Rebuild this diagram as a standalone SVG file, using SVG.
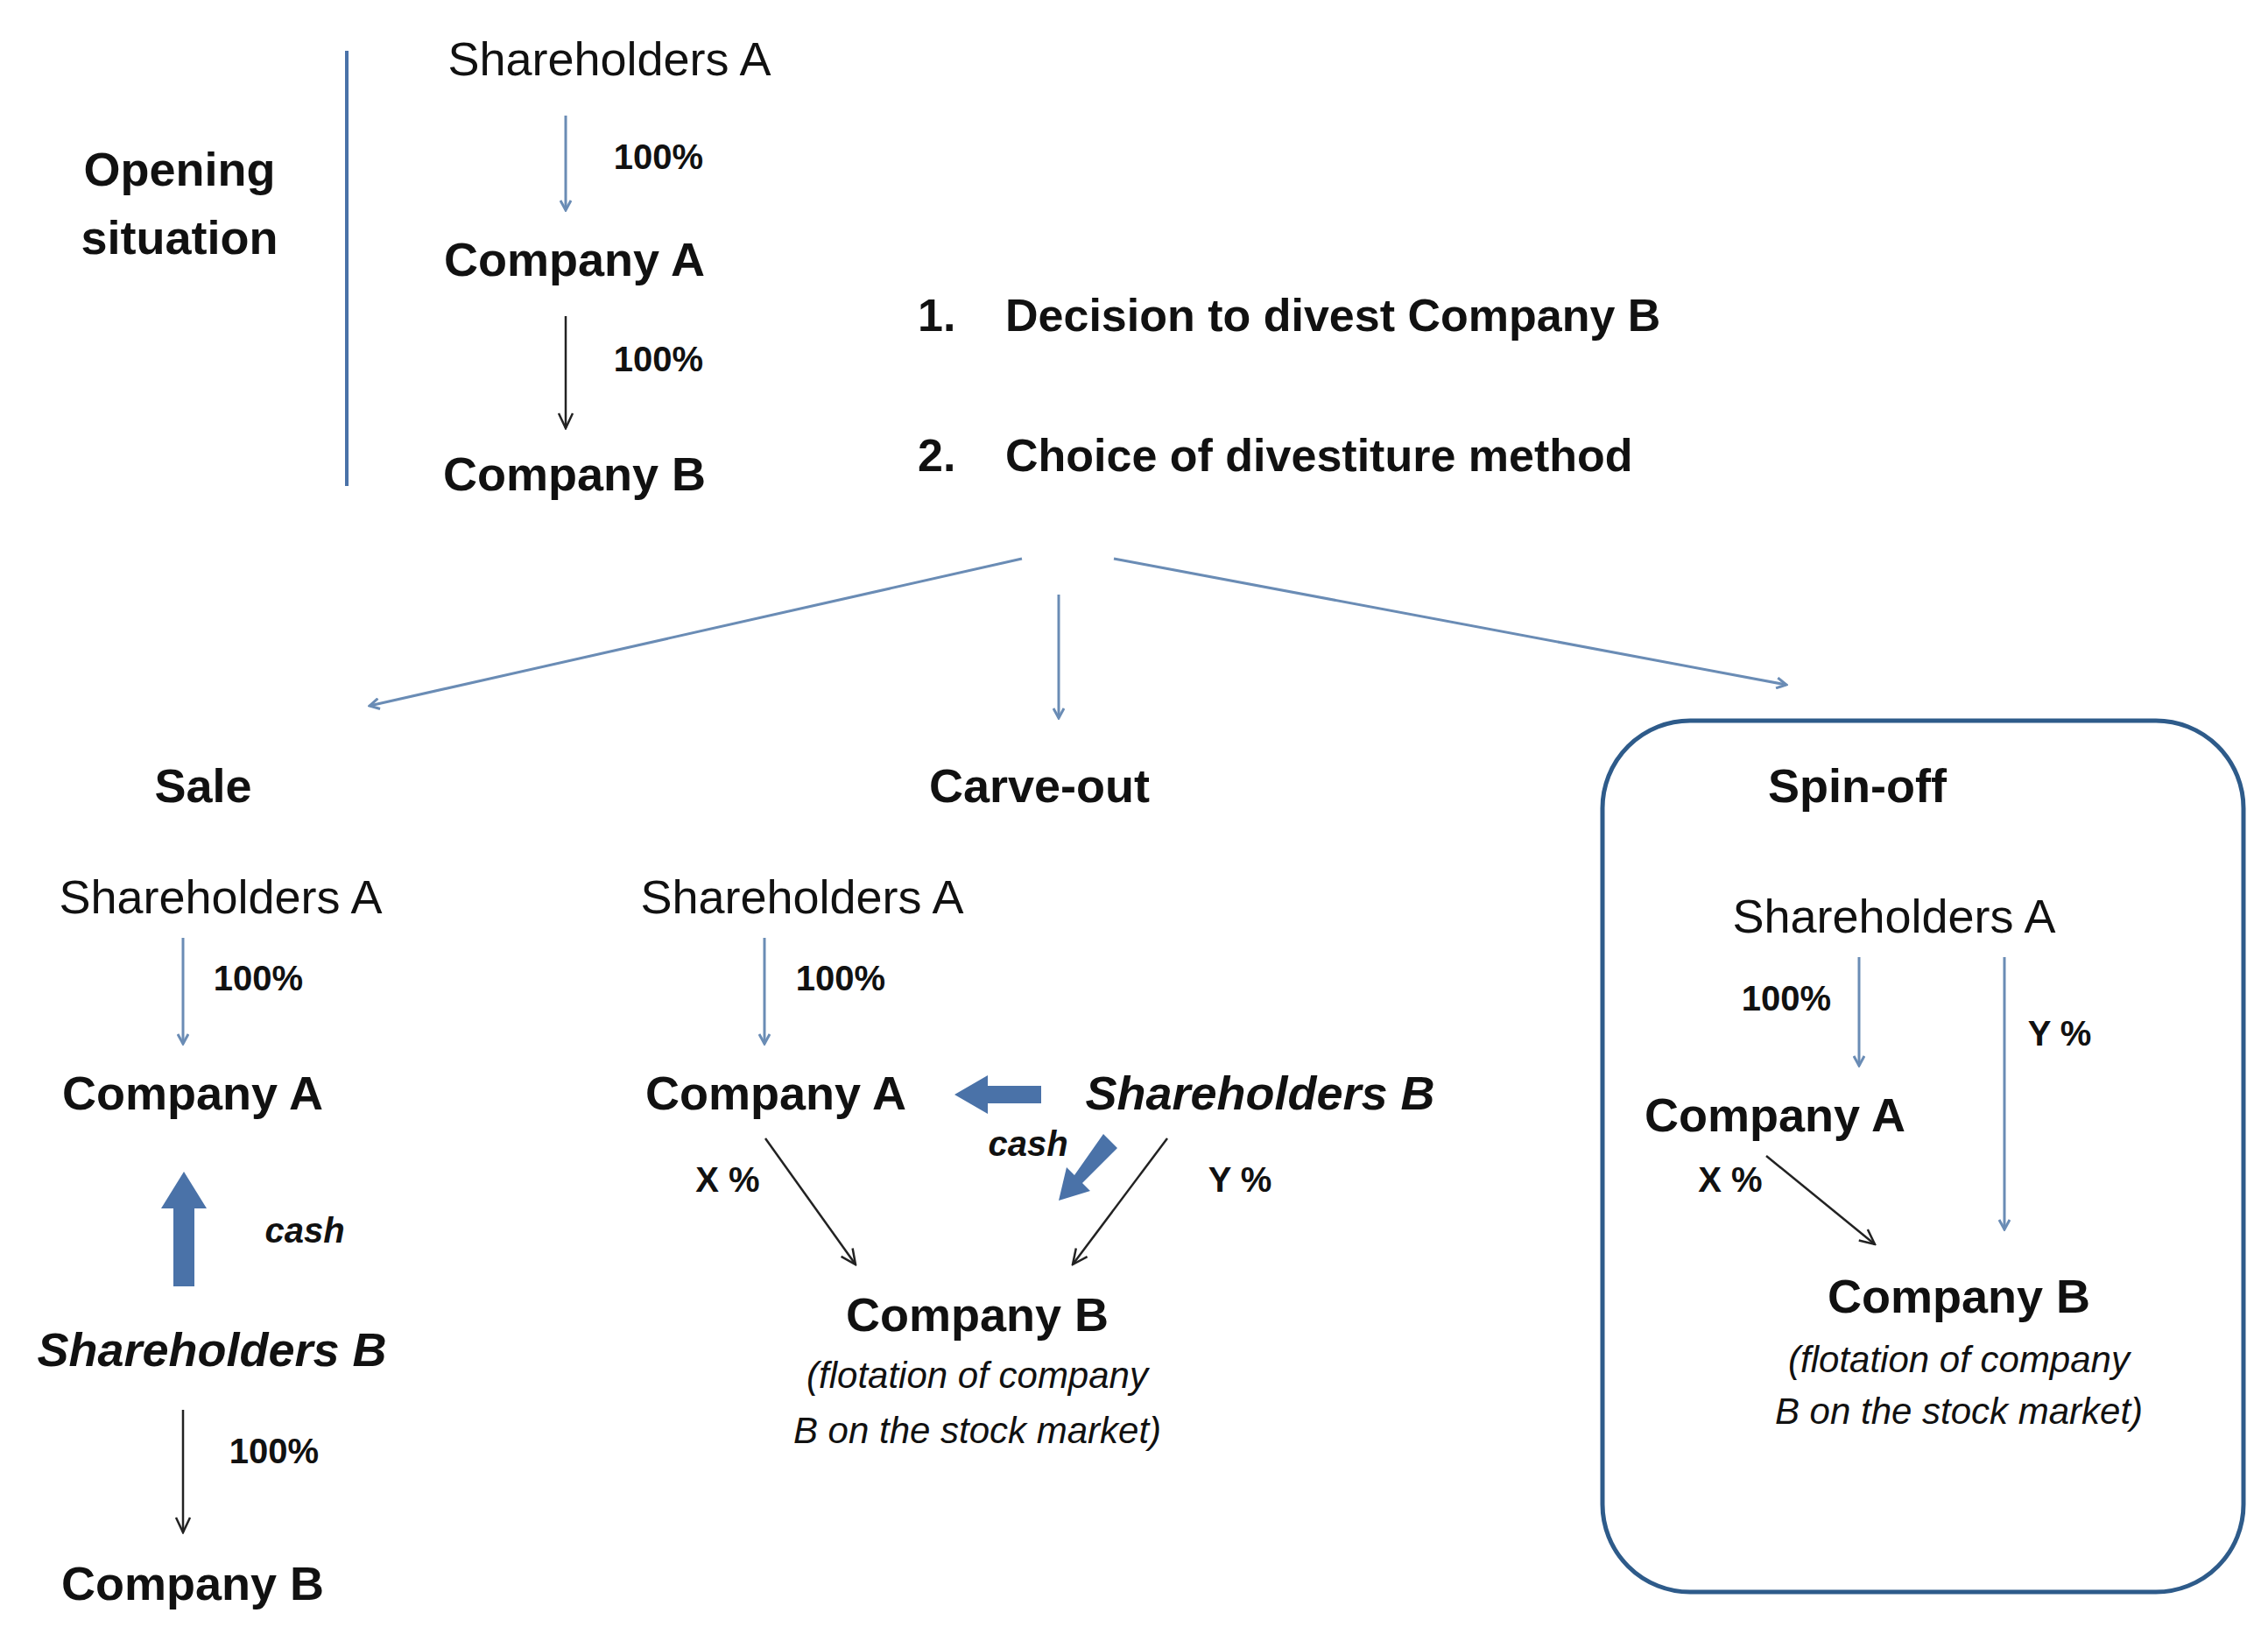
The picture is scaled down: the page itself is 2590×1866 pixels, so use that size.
<svg xmlns="http://www.w3.org/2000/svg" width="2590" height="1866" viewBox="0 0 2590 1866">
<style>
text{font-family:"Liberation Sans",Arial,sans-serif;fill:#111;text-anchor:middle}
.b{font-weight:bold;font-size:54px}
.r{font-size:54px}
.bi{font-weight:bold;font-style:italic;font-size:54px}
.p{font-weight:bold;font-size:40px}
.c{font-weight:bold;font-style:italic;font-size:40px}
.f{font-style:italic;font-size:42px}
.s{font-weight:bold;font-size:52px;text-anchor:start}
.bl{stroke:#6a8cb5;stroke-width:3;fill:none;marker-end:url(#mb)}
.bk{stroke:#222;stroke-width:2.5;fill:none;marker-end:url(#mk)}
.thick{fill:#4a72a8}
</style>
<defs>
<marker id="mb" markerWidth="14" markerHeight="14" refX="12" refY="7" orient="auto" markerUnits="userSpaceOnUse"><path d="M1,1 L12,7 L1,13" fill="none" stroke="#6a8cb5" stroke-width="3"/></marker>
<marker id="mk" markerWidth="20" markerHeight="20" refX="18" refY="10" orient="auto" markerUnits="userSpaceOnUse"><path d="M1,2 L18,10 L1,18" fill="none" stroke="#222" stroke-width="2.5"/></marker>
</defs>
<rect width="2590" height="1866" fill="#fff"/>
<line x1="396" y1="58" x2="396" y2="555" stroke="#4a72a8" stroke-width="4"/>
<g id="opening"><text class="b" x="205" y="212">Opening</text><text class="b" x="205" y="290">situation</text></g>
<g id="topShA"><text class="r" x="696" y="86">Shareholders  A</text></g>
<g id="topCoA"><text class="b" x="656" y="315">Company A</text></g>
<g id="topCoB"><text class="b" x="656" y="560">Company B</text></g>
<g id="steps"><text class="s" x="1048" y="378">1.</text><text class="s" x="1148" y="378">Decision to divest Company B</text><text class="s" x="1048" y="538">2.</text><text class="s" x="1148" y="538">Choice of divestiture method</text></g>
<g id="sale"><text class="b" x="232" y="916">Sale</text></g>
<g id="carve"><text class="b" x="1187" y="916">Carve-out</text></g>
<g id="spin"><rect x="1830" y="823" width="732" height="995" rx="100" fill="none" stroke="#2e5b8a" stroke-width="5"/><text class="b" x="2121" y="916">Spin-off</text></g>
<g id="saleShA"><text class="r" x="252" y="1043">Shareholders A</text></g>
<g id="saleCoA"><text class="b" x="220" y="1267">Company A</text></g>
<g id="saleShB"><text class="bi" x="242" y="1560">Shareholders B</text></g>
<g id="saleCoB"><text class="b" x="220" y="1827">Company B</text></g>
<g id="cShA"><text class="r" x="916" y="1043">Shareholders A</text></g>
<g id="cCoA"><text class="b" x="886" y="1267">Company A</text></g>
<g id="cShB"><text class="bi" x="1439" y="1267">Shareholders B</text></g>
<g id="cCoB"><text class="b" x="1116" y="1520">Company B</text><text class="f" x="1116" y="1585">(flotation of company</text><text class="f" x="1116" y="1648">B on the stock market)</text></g>
<g id="sShA"><text class="r" x="2163" y="1065">Shareholders A</text></g>
<g id="sCoA"><text class="b" x="2027" y="1292">Company A</text></g>
<g id="sCoB"><text class="b" x="2237" y="1499">Company B</text><text class="f" x="2237" y="1567">(flotation of company</text><text class="f" x="2237" y="1626">B on the stock market)</text></g>
<g id="connectors">
<line class="bl" x1="646" y1="132" x2="646" y2="240"/>
<line class="bk" x1="646" y1="361" x2="646" y2="489"/>
<line class="bl" x1="1167" y1="638" x2="422" y2="806"/>
<line class="bl" x1="1209" y1="679" x2="1209" y2="820"/>
<line class="bl" x1="1272" y1="638" x2="2040" y2="782"/>
<line class="bl" x1="209" y1="1071" x2="209" y2="1192"/>
<polygon class="thick" points="198,1469 222,1469 222,1380 236,1380 210,1338 184,1380 198,1380"/>
<line class="bk" x1="209" y1="1610" x2="209" y2="1750"/>
<line class="bl" x1="873" y1="1071" x2="873" y2="1192"/>
<polygon class="thick" points="1189,1240 1189,1260 1128,1260 1128,1272 1090,1250 1128,1228 1128,1240"/>
<polygon class="thick" points="1260,1295 1276,1311 1236,1351 1245,1360 1209,1371 1218,1333 1227,1342"/>
<line class="bk" x1="874" y1="1300" x2="977" y2="1444"/>
<line class="bk" x1="1333" y1="1300" x2="1225" y2="1444"/>
<line class="bl" x1="2123" y1="1093" x2="2123" y2="1217"/>
<line class="bl" x1="2289" y1="1093" x2="2289" y2="1404"/>
<line class="bk" x1="2017" y1="1320" x2="2141" y2="1421"/>
<text class="p" x="752" y="193">100%</text>
<text class="p" x="752" y="424">100%</text>
<text class="p" x="295" y="1131">100%</text>
<text class="c" x="348" y="1419">cash</text>
<text class="p" x="313" y="1671">100%</text>
<text class="p" x="960" y="1131">100%</text>
<text class="c" x="1174" y="1320">cash</text>
<text class="p" x="831" y="1361">X %</text>
<text class="p" x="1416" y="1361">Y %</text>
<text class="p" x="2040" y="1154">100%</text>
<text class="p" x="2352" y="1194">Y %</text>
<text class="p" x="1976" y="1361">X %</text>
</g>
</svg>
